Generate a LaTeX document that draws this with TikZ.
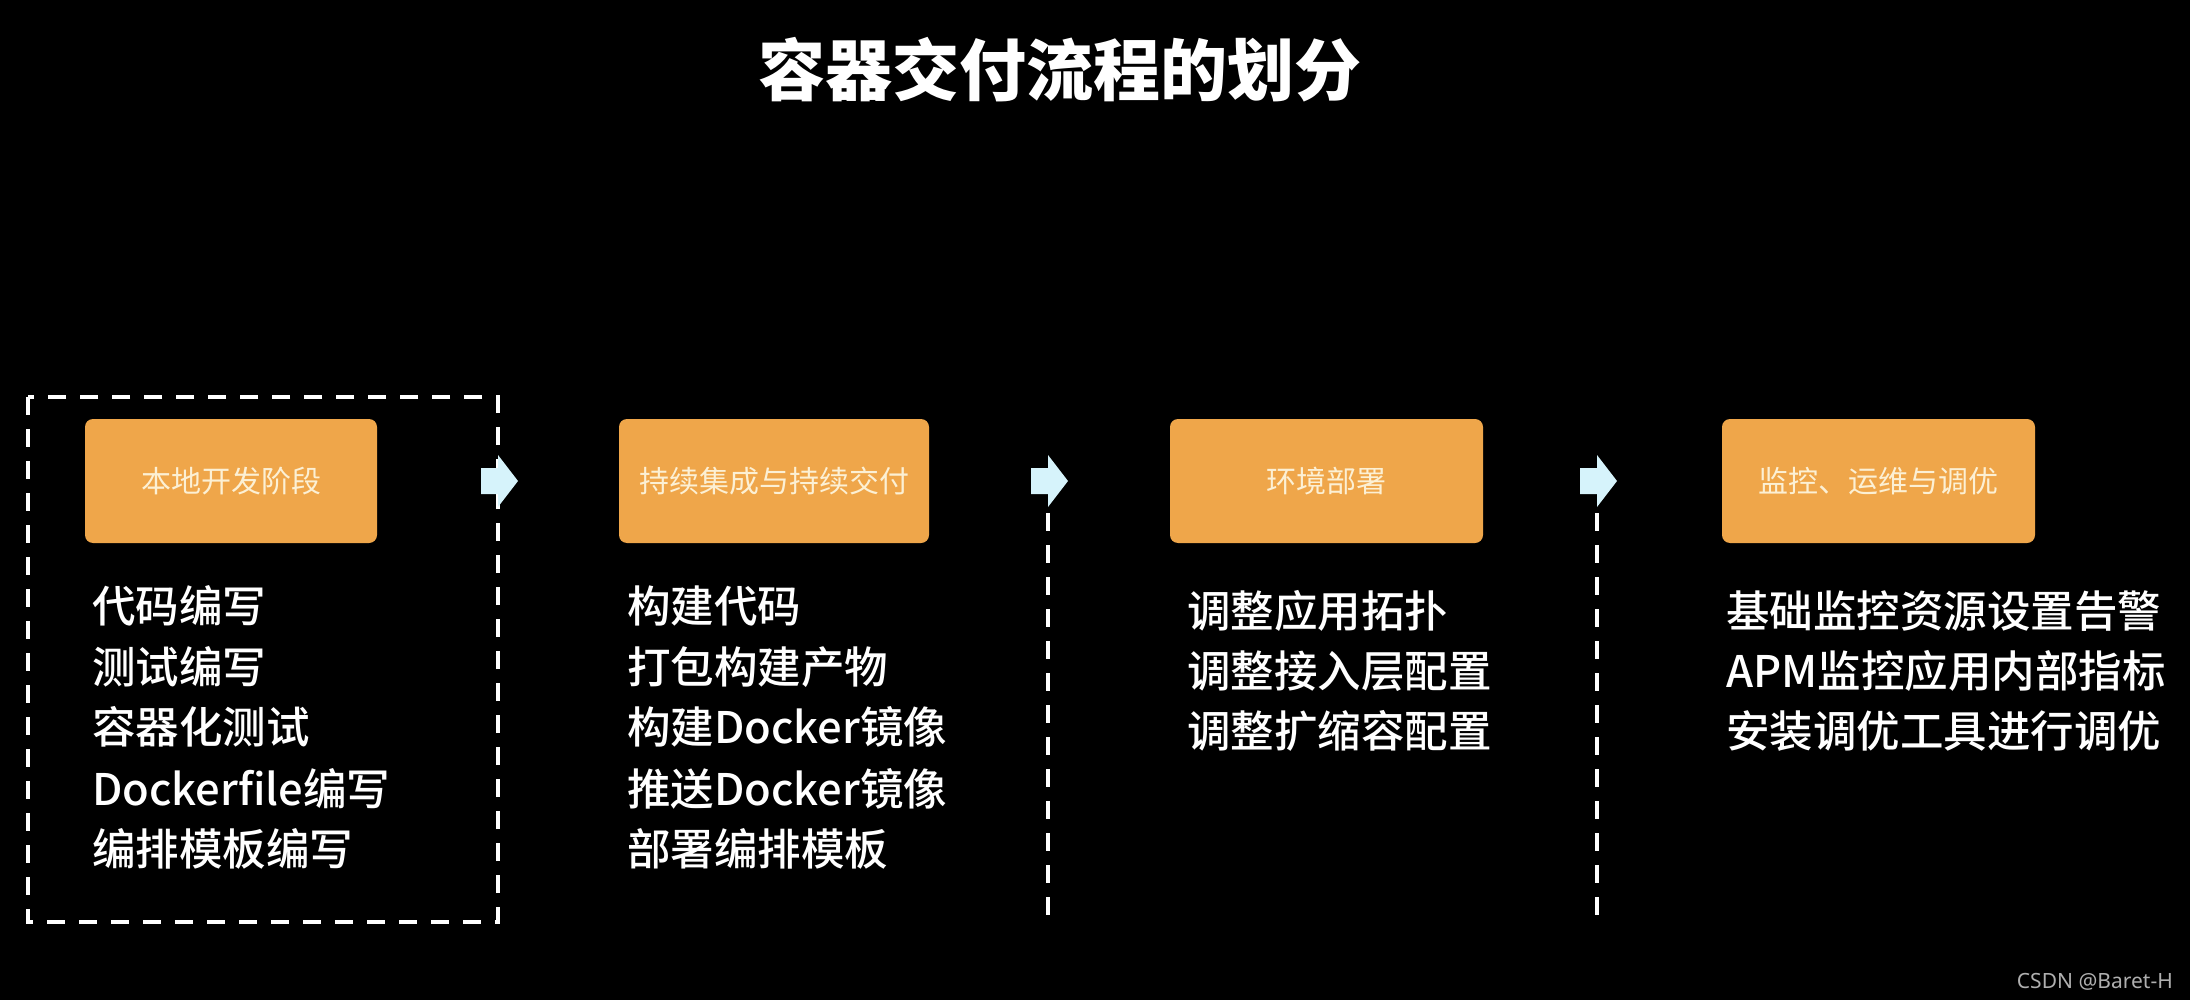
\documentclass[tikz,border=0pt]{standalone}
\usepackage{fontspec}
\newfontfamily\cjk{Noto Sans CJK SC}
\newfontfamily\cjkmed{Noto Sans CJK SC Medium}
\newfontfamily\wm{Noto Sans}
\definecolor{boxorange}{RGB}{239,166,74}
\definecolor{boxtext}{RGB}{252,240,212}
\definecolor{arrowfill}{RGB}{214,243,251}
\definecolor{wmgray}{RGB}{175,175,175}
\begin{document}
\begin{tikzpicture}[x=1pt,y=-1pt,
  stage/.style={draw=none, fill=boxorange, rounded corners=8pt, minimum height=124pt, inner sep=0pt, text=boxtext, font=\cjk\fontsize{30}{36}\selectfont},
  item/.style={anchor=base west, inner sep=0pt, text=white, font=\cjkmed\fontsize{43.5}{50}\selectfont},
  sepline/.style={draw=white, line width=3.5pt, dash pattern=on 18pt off 14pt},
  flow/.style={fill=arrowfill, draw=none}]
\fill[black] (0,0) rectangle (2190,1000);
\useasboundingbox (0,0) rectangle (2190,1000);

\node[anchor=base, inner sep=0pt, text=white, font=\cjk\bfseries\fontsize{67}{80}\selectfont] (title) at (1060,96) {容器交付流程的划分};

% stage boxes
\node[stage, minimum width=292pt] (b1) at (231,481) {本地开发阶段};
\node[stage, minimum width=310pt] (b2) at (774,481) {持续集成与持续交付};
\node[stage, minimum width=313pt] (b3) at (1326.5,481) {环境部署};
\node[stage, minimum width=313pt] (b4) at (1878.5,481) {监控、运维与调优};

% separators
\draw[sepline] (28,397) rectangle (498,922);
\coordinate (s2t) at (1048,513); \coordinate (s2b) at (1048,918);
\coordinate (s3t) at (1597,513); \coordinate (s3b) at (1597,918);
\draw[sepline] (s2t) -- (s2b);
\draw[sepline] (s3t) -- (s3b);

% flow arrows
\foreach \x in {498,1048,1597}{
  \fill[flow] (\x-17,468) -- (\x,468) -- (\x,455) -- (\x+20,481) -- (\x,507) -- (\x,494) -- (\x-17,494) -- cycle;
}

% column 1
\node[item] (c1a) at (92,622) {代码编写};
\node[item] (c1b) at (92,683) {测试编写};
\node[item] (c1c) at (92,743) {容器化测试};
\node[item] (c1d) at (92,805) {Dockerfile编写};
\node[item] (c1e) at (92,865) {编排模板编写};
% column 2
\node[item] (c2a) at (627,622) {构建代码};
\node[item] (c2b) at (627,683) {打包构建产物};
\node[item] (c2c) at (627,743) {构建Docker镜像};
\node[item] (c2d) at (627,805) {推送Docker镜像};
\node[item] (c2e) at (627,865) {部署编排模板};
% column 3
\node[item] (c3a) at (1187,627) {调整应用拓扑};
\node[item] (c3b) at (1187,687) {调整接入层配置};
\node[item] (c3c) at (1187,747) {调整扩缩容配置};
% column 4
\node[item] (c4a) at (1726,627) {基础监控资源设置告警};
\node[item] (c4b) at (1726,687) {APM监控应用内部指标};
\node[item] (c4c) at (1726,747) {安装调优工具进行调优};

\node[anchor=base east, inner sep=0pt, text=wmgray, font=\wm\fontsize{21}{25}\selectfont] (mark) at (2173,988) {CSDN @Baret-H};
\end{tikzpicture}
\end{document}
